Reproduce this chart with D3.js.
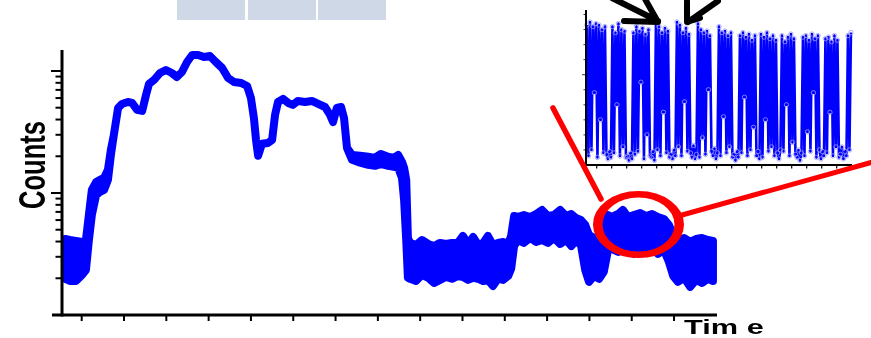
<!DOCTYPE html>
<html><head><meta charset="utf-8">
<script src="https://cdn.jsdelivr.net/npm/d3@7/dist/d3.min.js"></script>
<style>body{margin:0;background:#fff}svg{display:block}</style>
</head><body>
<svg id="c" width="871" height="338"></svg>
<script>
// ---- main trace (time units = x-axis tick index) ----
const time = [
  0.61, 0.72, 0.86, 1.01, 1.10, 1.17, 1.24, 1.34, 1.43, 1.53,
  1.62, 1.69, 1.76, 1.86, 1.95, 2.09, 2.19, 2.31, 2.43, 2.52,
  2.59, 2.71, 2.85, 2.99, 3.13, 3.25, 3.37, 3.49, 3.61, 3.75,
  3.89, 4.03, 4.17, 4.32, 4.46, 4.60, 4.77, 4.91, 5.00, 5.07,
  5.12, 5.17, 5.26, 5.40, 5.50, 5.57, 5.64, 5.76, 5.88, 5.99,
  6.11, 6.28, 6.44, 6.59, 6.75, 6.87, 6.94, 7.03, 7.13, 7.20,
  7.27, 7.39, 7.58, 7.77, 7.93, 8.07, 8.24, 8.38, 8.48, 8.57,
  8.62, 8.67, 8.71, 8.76, 8.90, 9.04, 9.19, 9.33, 9.47, 9.61,
  9.75, 9.89, 10.01, 10.13, 10.25, 10.37, 10.49, 10.60, 10.72, 10.84,
  10.96, 11.08, 11.15, 11.22, 11.31, 11.45, 11.60, 11.74, 11.88, 12.02,
  12.16, 12.31, 12.45, 12.57, 12.68, 12.80, 12.90, 12.99, 13.11, 13.23,
  13.34, 13.44, 13.53, 13.68, 13.79, 13.91, 14.05, 14.20, 14.34, 14.48,
  14.62, 14.76, 14.88, 14.98, 15.09, 15.24, 15.38, 15.52, 15.66, 15.80,
  15.92
];
const countsHigh = [
  4.20, 4.12, 4.05, 3.97, 4.12, 6.6, 10.6, 12.3, 12.8, 13.3,
  15.5, 22.6, 29.9, 49.8, 53.7, 55.7, 54.7, 48.0, 47.1, 63.6,
  78.3, 84.4, 96.3, 101.9, 96.3, 89.3, 98.1, 118.5, 135.2, 135.2,
  130.2, 132.7, 118.5, 105.8, 87.6, 81.3, 79.8, 75.4, 60.1, 41.2,
  27.2, 20.2, 25.3, 25.7, 27.2, 43.6, 55.7, 59.0, 54.7, 52.7,
  56.8, 55.7, 56.8, 53.7, 50.7, 43.6, 38.2, 49.8, 50.7, 41.2,
  23.4, 20.5, 20.2, 19.8, 19.4, 20.9, 19.8, 19.4, 20.5, 18.0,
  16.1, 12.8, 4.28, 3.90, 3.75, 4.12, 3.82, 3.68, 3.90, 3.82,
  3.90, 3.90, 4.45, 3.82, 4.36, 3.75, 3.90, 4.45, 3.75, 3.90,
  3.97, 3.82, 4.45, 6.48, 6.36, 6.60, 6.36, 6.73, 7.26, 6.48,
  6.60, 7.26, 6.48, 6.73, 6.24, 6.01, 5.47, 4.53, 4.28, 4.36,
  4.98, 6.60, 6.36, 6.73, 7.26, 6.36, 6.60, 6.86, 6.48, 6.73,
  6.36, 6.13, 5.47, 4.45, 4.12, 4.28, 3.97, 4.20, 4.28, 4.12,
  4.05
];
const countsLow = [
  1.98, 1.90, 1.90, 2.13, 2.34, 4.12, 6.6, 9.6, 10.2, 10.6,
  12.8, 20.5, 29.9, 49.8, 53.7, 55.7, 54.7, 48.0, 47.1, 63.6,
  78.3, 84.4, 96.3, 101.9, 96.3, 89.3, 98.1, 118.5, 135.2, 135.2,
  130.2, 132.7, 118.5, 105.8, 87.6, 81.3, 79.8, 75.4, 60.1, 41.2,
  27.2, 20.2, 25.3, 25.7, 27.2, 43.6, 55.7, 59.0, 54.7, 52.7,
  56.8, 55.7, 56.8, 53.7, 50.7, 43.6, 38.2, 49.8, 50.7, 41.2,
  23.4, 18.7, 17.7, 17.0, 16.7, 17.3, 16.7, 16.4, 16.1, 13.3,
  8.76, 4.12, 2.02, 1.98, 1.90, 2.13, 2.02, 1.83, 1.94, 2.05,
  1.98, 2.09, 2.05, 1.94, 2.02, 1.98, 1.90, 1.94, 1.73, 1.98,
  1.94, 2.09, 2.39, 3.68, 4.12, 3.90, 4.28, 3.97, 4.12, 3.90,
  4.28, 3.82, 4.12, 3.68, 4.05, 3.75, 2.34, 1.87, 2.09, 1.98,
  2.26, 3.41, 3.48, 3.29, 3.61, 3.41, 3.17, 3.48, 3.29, 3.55,
  3.17, 3.41, 2.72, 2.09, 1.87, 2.02, 1.70, 1.94, 1.83, 1.98,
  1.90
];
const xTicks = [1,2,3,4,5,6,7,8,9,10,11,12,13,14,15];
const yMajorTicks = [10, 100];
const yMinorTicks = [2,3,4,5,6,7,8,9,20,30,40,50,60,70,80,90];
const yLabel = "Counts";
const xLabel = "Tim e";

// ---- inset (zoomed blinking trace), samples every 0.1 from 0.35 ----
const insetStart = 0.35, insetStep = 0.1;
const insetValues = [
  93, 6, 95, 10, 92, 48, 94, 5, 93, 30, 90, 8, 92,
  7, 4, 9, 5,
  92, 8, 88, 40, 94, 6, 90, 12, 89, 5,
  6, 3, 8, 4,
  88, 7, 92, 9, 89, 55, 91, 4, 87, 20, 90, 6,
  5, 9, 3,
  95, 10, 92, 6, 88, 35, 91, 8, 89, 5,
  7, 4, 10, 6,
  95, 12, 93, 6, 88, 42, 91, 9, 87,
  8, 5, 13, 4, 7,
  94, 5, 90, 18, 88, 7, 89, 50, 86, 9,
  6, 11, 4, 8,
  92, 6, 88, 32, 89, 8, 86, 12, 88, 5,
  7, 3, 9, 5,
  86, 8, 88, 45, 85, 6, 87, 10, 83, 25, 86,
  6, 9, 4,
  87, 5, 85, 30, 88, 9, 84, 12, 86, 6, 83,
  8, 4, 10,
  86, 9, 82, 40, 85, 6, 87, 15, 84, 7,
  5, 10, 3, 8,
  85, 6, 86, 22, 83, 9, 87, 48, 84, 5, 86, 10,
  4, 9, 6,
  84, 8, 85, 35, 82, 6, 86, 12, 83, 5,
  7, 12, 4, 9, 6,
  86, 10, 88
];
const insetXTicks = [1,2,3,4,5,6,7,8,9,10,11,12,13,14,15,16,17,18];
const insetYTicks = [10,20,30,40,50,60,70,80,90,100];

const svg = d3.select("#c");
const BLUE = "#0000ff", RED = "#ff0000";

const defs = svg.append("defs");
defs.append("filter").attr("id", "soft").attr("x", "-5%").attr("y", "-5%").attr("width", "110%").attr("height", "110%")
  .append("feGaussianBlur").attr("stdDeviation", 0.55);
const root = svg.append("g").attr("filter", "url(#soft)");

// top tabs
const tabs = [[177,245],[248,316],[318,386]];
root.selectAll("rect.tab").data(tabs).join("rect")
  .attr("x", d => d[0]).attr("y", 0).attr("width", d => d[1]-d[0]).attr("height", 20)
  .attr("fill", "#cfd8e6");

// scales
const x = d3.scaleLinear().domain([0, 16]).range([39.39, 716.35]);
const y = d3.scaleLog().domain([1, 148.6]).range([315, 50]);

// trace
const area = d3.area()
  .x((d, i) => x(time[i]))
  .y0((d, i) => y(countsLow[i]))
  .y1((d, i) => y(countsHigh[i]));
root.append("path").datum(time).attr("d", area)
  .attr("fill", BLUE).attr("stroke", BLUE).attr("stroke-width", 8)
  .attr("stroke-linejoin", "round").attr("stroke-linecap", "round");

// axes
const ax = root.append("g").attr("stroke", "#000");
ax.append("line").attr("x1", 62).attr("x2", 62).attr("y1", 50).attr("y2", 316.5).attr("stroke-width", 3);
ax.append("line").attr("x1", 52).attr("x2", 717).attr("y1", 315).attr("y2", 315).attr("stroke-width", 3);
ax.selectAll("line.ymaj").data(yMajorTicks).join("line")
  .attr("x1", 51).attr("x2", 62).attr("y1", d => y(d)).attr("y2", d => y(d)).attr("stroke-width", 2);
ax.selectAll("line.ymin").data(yMinorTicks).join("line")
  .attr("x1", 55.5).attr("x2", 62).attr("y1", d => y(d)).attr("y2", d => y(d)).attr("stroke-width", 2);
ax.selectAll("line.xt").data(xTicks).join("line")
  .attr("x1", d => x(d)).attr("x2", d => x(d)).attr("y1", 315).attr("y2", 321).attr("stroke-width", 2);

// inset
const xi = d3.scaleLinear().domain([0, 18]).range([581.7, 851.7]);
const yi = d3.scaleLinear().domain([0, 103]).range([165, 10]);
const ig = root.append("g");
ig.append("path").datum(insetValues)
  .attr("d", d3.line().x((d, i) => xi(insetStart + i*insetStep)).y(d => yi(d)))
  .attr("fill", "none").attr("stroke", BLUE).attr("stroke-width", 2.6).attr("stroke-linejoin", "round");
ig.selectAll("circle").data(insetValues).join("circle")
  .attr("cx", (d, i) => xi(insetStart + i*insetStep)).attr("cy", d => yi(d)).attr("r", 2.2)
  .attr("fill", "none").attr("stroke", "#9a9aff").attr("stroke-width", 0.8);
ig.append("line").attr("x1", 586).attr("x2", 586).attr("y1", 10).attr("y2", 166).attr("stroke", "#000").attr("stroke-width", 2);
ig.append("line").attr("x1", 585).attr("x2", 852).attr("y1", 165).attr("y2", 165).attr("stroke", "#000").attr("stroke-width", 2);
ig.selectAll("line.ixt").data(insetXTicks).join("line")
  .attr("x1", d => xi(d)).attr("x2", d => xi(d)).attr("y1", 165).attr("y2", 168.5)
  .attr("stroke", "#000").attr("stroke-width", 1.2);
ig.selectAll("line.iyt").data(insetYTicks).join("line")
  .attr("x1", d => d === 60 ? 582 : 583.5).attr("x2", 586).attr("y1", d => yi(d)).attr("y2", d => yi(d))
  .attr("stroke", "#000").attr("stroke-width", 0.8);

// red annotation
root.append("line").attr("x1", 553).attr("y1", 108).attr("x2", 601).attr("y2", 199)
  .attr("stroke", RED).attr("stroke-width", 5.5).attr("stroke-linecap", "round");
root.append("line").attr("x1", 682).attr("y1", 215).attr("x2", 880).attr("y2", 160)
  .attr("stroke", RED).attr("stroke-width", 5).attr("stroke-linecap", "round");
root.append("ellipse").attr("transform", "translate(638.5,224.5) scale(1.47,1)")
  .attr("rx", 27.7).attr("ry", 30.3).attr("fill", "none").attr("stroke", RED).attr("stroke-width", 6.5);

// black arrows
const arr = root.append("g").attr("stroke", "#000").attr("stroke-width", 6).attr("fill", "none")
  .attr("stroke-linecap", "round").attr("stroke-linejoin", "round");
arr.append("path").attr("d", "M612,-2 L658,21 M624,21 L658,22 L645,-1");
arr.append("path").attr("d", "M718,1 L688,22 M687,1 L687,22 L700,18");

// labels
root.append("text").text(yLabel)
  .attr("transform", "translate(45,165) scale(1.47,1) rotate(-90)")
  .attr("text-anchor", "middle").attr("font-family", "Liberation Sans, Arial, sans-serif")
  .attr("font-weight", "bold").attr("font-size", 25.5).attr("fill", "#000");
root.append("text").text(xLabel)
  .attr("transform", "translate(684,334) scale(1.5,1)")
  .attr("font-family", "Liberation Sans, Arial, sans-serif")
  .attr("font-weight", "bold").attr("font-size", 20.5).attr("fill", "#000")
  .attr("xml:space", "preserve");
</script>
</body></html>
